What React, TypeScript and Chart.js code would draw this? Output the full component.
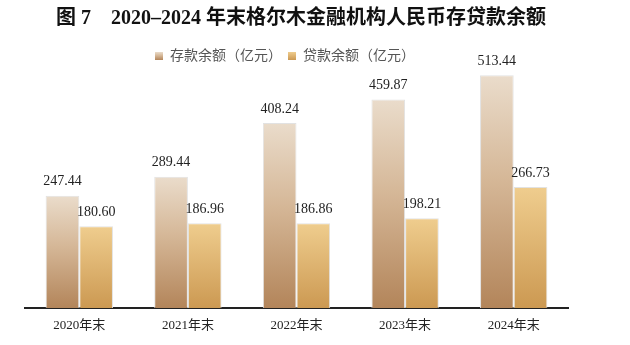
import React, { useEffect, useRef } from "react";
import { Chart, registerables } from "chart.js";

Chart.register(...registerables);

const TITLE = "图 7　2020–2024 年末格尔木金融机构人民币存贷款余额";
const categories = ["2020年末", "2021年末", "2022年末", "2023年末", "2024年末"];
const depositLabel = "存款余额（亿元）";
const loanLabel = "贷款余额（亿元）";
const depositValues = [247.44, 289.44, 408.24, 459.87, 513.44];
const loanValues = [180.6, 186.96, 186.86, 198.21, 266.73];

const depositStops: [number, string][] = [
  [0, "#eadccb"],
  [0.45, "#d5b797"],
  [1, "#b3855a"],
];
const loanStops: [number, string][] = [
  [0, "#efcd8e"],
  [1, "#cc9952"],
];

const SERIF = '"Liberation Serif", "Noto Sans CJK SC", serif';

function barGradient(stops: [number, string][]) {
  return (ctx: any) => {
    const chart = ctx.chart;
    if (!chart.chartArea || ctx.type !== "data") return stops[stops.length - 1][1];
    const y = chart.scales.y;
    const top = y.getPixelForValue(ctx.raw);
    const bottom = y.getPixelForValue(0);
    const g = chart.ctx.createLinearGradient(0, top, 0, bottom);
    stops.forEach(([o, c]) => g.addColorStop(o, c));
    return g;
  };
}

const overlayPlugin = {
  id: "overlay",
  afterDatasetsDraw(chart: any) {
    const c = chart.ctx;
    c.save();
    // value labels
    c.font = `14px ${SERIF}`;
    c.fillStyle = "#222";
    c.textAlign = "center";
    c.textBaseline = "middle";
    chart.data.datasets.forEach((ds: any, i: number) => {
      const meta = chart.getDatasetMeta(i);
      meta.data.forEach((el: any, j: number) => {
        c.fillText(Number(ds.data[j]).toFixed(2), el.x, el.y - 14);
      });
    });
    // title
    c.font = `bold 20px ${SERIF}`;
    c.fillStyle = "#111";
    c.textAlign = "center";
    c.fillText(TITLE, 301, 19);
    // legend
    c.font = `14px ${SERIF}`;
    const items = [
      { label: depositLabel, stops: depositStops },
      { label: loanLabel, stops: loanStops },
    ];
    const box = 8;
    const gapBox = 7;
    const gapItem = 6;
    const widths = items.map((it) => box + gapBox + c.measureText(it.label).width);
    const total = widths.reduce((a, b) => a + b, 0) + gapItem * (items.length - 1);
    let x = 285 - total / 2;
    const ly = 56;
    items.forEach((it, k) => {
      const g = c.createLinearGradient(0, ly - box / 2, 0, ly + box / 2);
      it.stops.forEach(([o, col]) => g.addColorStop(o, col));
      c.fillStyle = g;
      c.fillRect(x, ly - box / 2, box, box);
      c.fillStyle = "#555";
      c.textAlign = "left";
      c.fillText(it.label, x + box + gapBox, ly);
      x += widths[k] + gapItem;
    });
    c.restore();
  },
};

export default function App() {
  const ref = useRef<HTMLCanvasElement>(null);
  useEffect(() => {
    if (!ref.current) return;
    const chart = new Chart(ref.current, {
      type: "bar",
      data: {
        labels: categories,
        datasets: [
          {
            label: depositLabel,
            data: depositValues,
            backgroundColor: barGradient(depositStops),
            borderColor: "#e2e2e2",
            borderWidth: 1,
            categoryPercentage: 0.62,
            barPercentage: 1,
          },
          {
            label: loanLabel,
            data: loanValues,
            backgroundColor: barGradient(loanStops),
            borderColor: "#e2e2e2",
            borderWidth: 1,
            categoryPercentage: 0.62,
            barPercentage: 1,
          },
        ],
      },
      options: {
        responsive: false,
        animation: false,
        layout: { padding: { left: 25, right: 62, top: 36, bottom: 0 } },
        plugins: {
          legend: { display: false },
          title: { display: false },
          tooltip: { enabled: false },
        },
        scales: {
          x: {
            grid: { display: false, drawTicks: false },
            border: { display: true, color: "#222", width: 2 },
            ticks: { font: { size: 13, family: SERIF }, color: "#222", padding: 10 },
            afterFit: (scale: any) => {
              scale.height = 37;
            },
          },
          y: {
            display: false,
            min: 0,
            max: 600,
          },
        },
      },
      plugins: [overlayPlugin],
    });
    return () => chart.destroy();
  }, []);
  return (
    <div style={{ position: "fixed", left: 0, top: 0, width: 630, height: 345, background: "#fff" }}>
      <canvas ref={ref} width={630} height={345} style={{ width: 630, height: 345, display: "block" }} />
    </div>
  );
}
